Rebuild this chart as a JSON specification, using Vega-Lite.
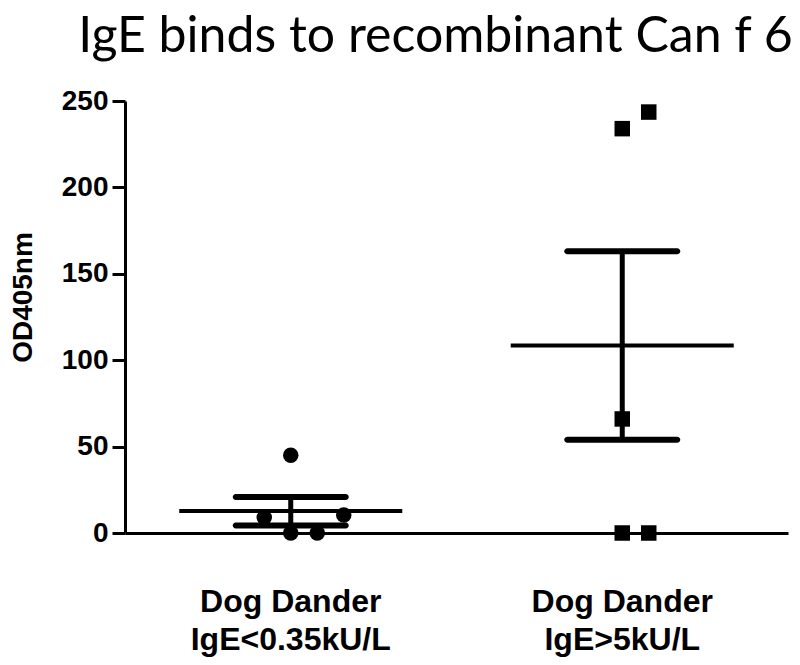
{
  "$schema": "https://vega.github.io/schema/vega-lite/v6.json",
  "width": 663,
  "height": 432,
  "autosize": {"type": "none"},
  "padding": {"left": 125, "top": 101, "right": 12, "bottom": 132},
  "background": "white",
  "title": {
    "text": "IgE binds to recombinant Can f 6",
    "font": "Lato",
    "fontSize": 50,
    "fontWeight": "normal",
    "color": "black",
    "anchor": "middle",
    "dx": -21,
    "offset": 25
  },
  "config": {
    "view": {"stroke": null},
    "axis": {"grid": false, "domainColor": "black", "tickColor": "black", "labelColor": "black", "titleColor": "black"}
  },
  "datasets": {
    "points": [
      {"group": "Dog Dander|IgE<0.35kU/L", "col": 0, "value": 45},
      {"group": "Dog Dander|IgE<0.35kU/L", "col": -1, "value": 9},
      {"group": "Dog Dander|IgE<0.35kU/L", "col": 0, "value": 0},
      {"group": "Dog Dander|IgE<0.35kU/L", "col": 1, "value": 0},
      {"group": "Dog Dander|IgE<0.35kU/L", "col": 2, "value": 10.4},
      {"group": "Dog Dander|IgE>5kU/L", "col": 0, "value": 234},
      {"group": "Dog Dander|IgE>5kU/L", "col": 1, "value": 243.6},
      {"group": "Dog Dander|IgE>5kU/L", "col": 0, "value": 66},
      {"group": "Dog Dander|IgE>5kU/L", "col": 0, "value": 0},
      {"group": "Dog Dander|IgE>5kU/L", "col": 1, "value": 0}
    ],
    "stats": [
      {"group": "Dog Dander|IgE<0.35kU/L", "mean": 12.7, "lower": 4.3, "upper": 20.9},
      {"group": "Dog Dander|IgE>5kU/L", "mean": 108.5, "lower": 54, "upper": 163}
    ]
  },
  "encoding": {
    "x": {
      "field": "group",
      "type": "nominal",
      "sort": null,
      "scale": {"type": "band", "paddingInner": 0, "paddingOuter": 0},
      "axis": {
        "title": null,
        "ticks": false,
        "domainWidth": 3,
        "labelAngle": 0,
        "labelLimit": 0,
        "labelFont": "Liberation Sans",
        "labelFontWeight": "bold",
        "labelFontSize": 32,
        "labelLineHeight": 38,
        "labelPadding": 53,
        "labelExpr": "split(datum.label, '|')"
      }
    }
  },
  "layer": [
    {
      "data": {"name": "points"},
      "mark": {"type": "point", "filled": true, "opacity": 1, "color": "black", "size": 240},
      "encoding": {
        "xOffset": {"field": "col", "type": "quantitative", "scale": {"domain": [-1, 2], "range": [139.25, 218.75]}},
        "y": {
          "field": "value",
          "type": "quantitative",
          "scale": {"domain": [0, 250], "nice": false},
          "axis": {
            "title": "OD405nm",
            "values": [0, 50, 100, 150, 200, 250],
            "domainWidth": 3,
            "tickWidth": 3,
            "tickSize": 13,
            "labelPadding": 4,
            "labelFont": "Liberation Sans",
            "labelFontWeight": "bold",
            "labelFontSize": 28,
            "titleFont": "Liberation Sans",
            "titleFontWeight": "bold",
            "titleFontSize": 28,
            "titlePadding": 24,
            "titleY": 196
          }
        },
        "shape": {"field": "group", "type": "nominal", "scale": {"range": ["circle", "square"]}, "legend": null}
      }
    },
    {
      "data": {"name": "stats"},
      "mark": {"type": "rule", "color": "black", "strokeWidth": 5},
      "encoding": {
        "y": {"field": "lower", "type": "quantitative"},
        "y2": {"field": "upper"}
      }
    },
    {
      "data": {"name": "stats"},
      "mark": {"type": "tick", "color": "black", "size": 223, "thickness": 4, "opacity": 1},
      "encoding": {"y": {"field": "mean", "type": "quantitative"}}
    },
    {
      "data": {"name": "stats"},
      "mark": {"type": "tick", "color": "black", "size": 116, "thickness": 6, "opacity": 1, "cornerRadius": 3},
      "encoding": {"y": {"field": "lower", "type": "quantitative"}}
    },
    {
      "data": {"name": "stats"},
      "mark": {"type": "tick", "color": "black", "size": 116, "thickness": 6, "opacity": 1, "cornerRadius": 3},
      "encoding": {"y": {"field": "upper", "type": "quantitative"}}
    }
  ]
}
